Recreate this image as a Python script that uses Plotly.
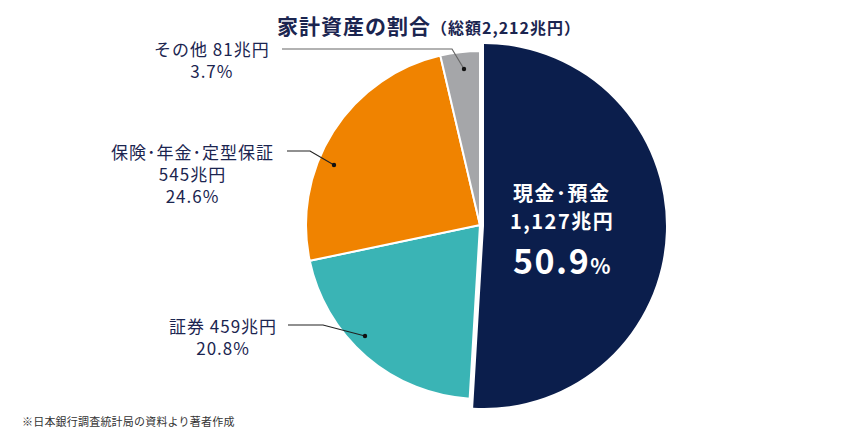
import plotly.graph_objects as go

# data
categories = ["現金･預金", "証券", "保険･年金･定型保証", "その他"]
values = [1127, 459, 545, 81]
shares = ["50.9%", "20.8%", "24.6%", "3.7%"]
total = 2212
colors = ["#0b1e4c", "#3ab4b5", "#f08300", "#a5a6a9"]

W, H = 855, 444
OFF = 8  # page body margin in the screenshot
FONT = "Noto Sans CJK JP"
NAVY = "#1b2550"


def px(x, y):
    return (x - OFF) / W, 1 - (y - OFF) / H


def dom(cx, cy, r):
    x0, y1 = px(cx - r, cy - r)
    x1, y0 = px(cx + r, cy + r)
    return dict(x=[x0, x1], y=[y0, y1])


fig = go.Figure()

# the smaller slices
fig.add_trace(go.Pie(
    labels=categories, values=values, sort=False, direction="clockwise", rotation=0,
    marker=dict(colors=["rgba(0,0,0,0)"] + colors[1:],
                line=dict(color=["rgba(0,0,0,0)", "white", "white", "white"], width=2)),
    textinfo="none", hoverinfo="skip", showlegend=False,
    domain=dom(480, 225, 174),
))
# cash slice, drawn bigger and nudged right
fig.add_trace(go.Pie(
    labels=categories, values=values, sort=False, direction="clockwise", rotation=0,
    marker=dict(colors=[colors[0]] + ["rgba(0,0,0,0)"] * 3,
                line=dict(width=0)),
    textinfo="none", hoverinfo="skip", showlegend=False,
    domain=dom(484, 226, 182),
))

ann = []


def txt(x, y, s, size=17, color=NAVY, ls=1, xanchor="center", yanchor="middle"):
    ax, ay = px(x, y)
    ann.append(dict(x=ax, y=ay, xref="paper", yref="paper",
                    text=f"<span style='letter-spacing:{ls}px'>{s}</span>",
                    showarrow=False, xanchor=xanchor, yanchor=yanchor,
                    font=dict(family=FONT, size=size, color=color)))


txt(429, 8, "<b>家計資産の割合</b><span style='font-size:16px'><b>（総額%s兆円）</b></span>" % f"{total:,}",
    size=21, ls=1, yanchor="top")

txt(212, 59, f"{categories[3]} {values[3]}兆円<br>{shares[3]}")
txt(192, 173, f"{categories[2]}<br>{values[2]}兆円<br>{shares[2]}")
txt(223, 336, f"{categories[1]} {values[1]}兆円<br>{shares[1]}")

txt(562, 192, f"<b>{categories[0]}</b>", size=20, color="white", ls=1.5)
txt(562, 220, f"<b>{values[0]:,}兆円</b>", size=20, color="white", ls=1.5)
txt(562, 259, f"<b>{shares[0][:-1]}</b><span style='font-size:21px'><b>%</b></span>",
    size=34, color="white", ls=1.5)

txt(20, 421, "※日本銀行調査統計局の資料より著者作成", size=11, color="#333333",
    ls=0.2, xanchor="left")

shapes = []


def leader(pts, color):
    path = "M " + " L ".join("%f,%f" % px(x, y) for x, y in pts)
    shapes.append(dict(type="path", path=path, xref="paper", yref="paper",
                       line=dict(color=color, width=1.2)))
    x, y = pts[-1]
    x0, y1 = px(x - 2.2, y - 2.2)
    x1, y0 = px(x + 2.2, y + 2.2)
    shapes.append(dict(type="circle", xref="paper", yref="paper",
                       x0=x0, x1=x1, y0=y0, y1=y1,
                       fillcolor="#111111", line=dict(width=0)))


leader([(282, 49), (452, 49), (464, 69)], "#666666")
leader([(287, 151), (310, 151), (334, 165)], "#222222")
leader([(288, 325), (323, 325), (365, 336)], "#222222")

fig.update_layout(
    width=W, height=H, margin=dict(l=0, r=0, t=0, b=0),
    paper_bgcolor="white", plot_bgcolor="white",
    annotations=ann, shapes=shapes,
)

fig.write_html("out.html")
